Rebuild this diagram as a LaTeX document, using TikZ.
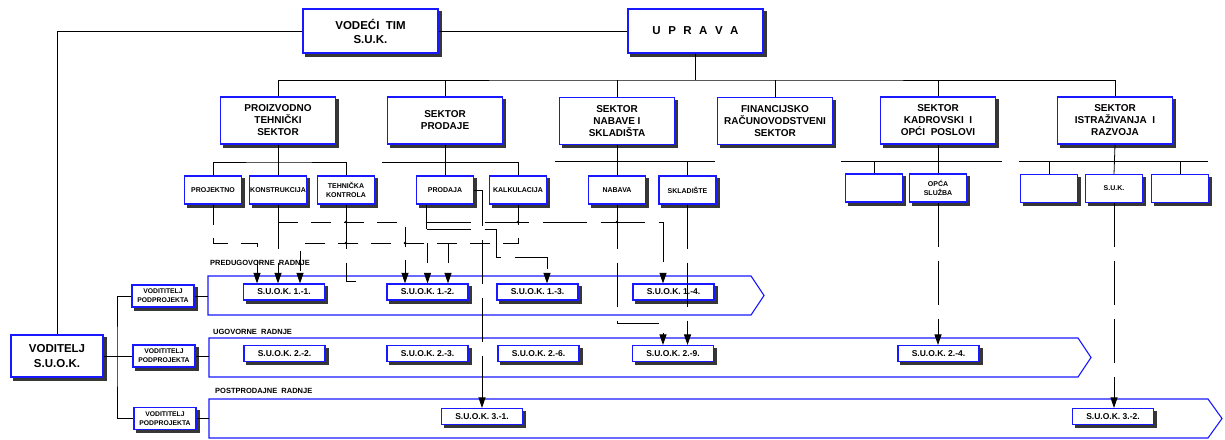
\documentclass[tikz,border=0pt]{standalone}
\usepackage{fontspec}
\setmainfont{Liberation Sans}
\usepackage{tikz}
\usetikzlibrary{arrows.meta}
\usetikzlibrary{calc}
\usetikzlibrary{backgrounds}
\usetikzlibrary{positioning}
\pgfdeclarelayer{pozadina}
\pgfdeclarelayer{sjene}
\pgfsetlayers{pozadina,sjene,main}
\definecolor{okvir}{RGB}{25,25,255}
\definecolor{sjena}{RGB}{55,55,55}
\tikzstyle{kutija}=[rectangle,draw=okvir,fill=white,line width=1.1pt,inner sep=1pt,align=center]
\tikzstyle{glavna}=[kutija,minimum width=135,minimum height=44,font=\fontsize{11.5}{14}\selectfont\bfseries]
\tikzstyle{voditelj}=[kutija,minimum width=92,minimum height=42,font=\fontsize{11.5}{15}\selectfont\bfseries]
\tikzstyle{sektor}=[kutija,minimum width=115,minimum height=47,font=\fontsize{10}{12}\selectfont\bfseries]
\tikzstyle{odjel}=[kutija,minimum width=57,minimum height=28,font=\fontsize{7}{9}\selectfont\bfseries]
\tikzstyle{suok}=[kutija,minimum width=81,minimum height=16,font=\fontsize{8.5}{10}\selectfont\bfseries]
\tikzstyle{podpr}=[kutija,minimum width=62,minimum height=22,font=\fontsize{6.8}{9}\selectfont\bfseries]
\tikzstyle{naslov}=[anchor=west,inner sep=0pt,font=\fontsize{7.5}{9}\selectfont\bfseries]
\tikzstyle{traka}=[draw=okvir,fill=white,line width=1.1pt]
\tikzstyle{veza}=[draw=black,line width=0.8pt]
\tikzstyle{crtkana}=[veza,dash pattern=on 44pt off 14pt]
\tikzstyle{crtkratka}=[veza,dash pattern=on 20pt off 13pt]
\tikzstyle{strelica}=[-{Triangle[width=7pt,length=10.5pt]}]

\begin{document}
\begin{tikzpicture}[x=1pt,y=-1pt]
        \useasboundingbox (0,0) rectangle (1225,439);
        % trake s radnjama
        \begin{pgfonlayer}{pozadina}
        \draw[traka] (208,276) -- (751,276) -- (764,295.5) -- (751,315) -- (208,315) -- cycle;
        \draw[traka] (209,338) -- (1078,338) -- (1091,357.5) -- (1078,377) -- (209,377) -- cycle;
        \draw[traka] (209,399) -- (1208,399) -- (1222,418.5) -- (1208,438) -- (209,438) -- cycle;
        \end{pgfonlayer}
        \coordinate (t1) at (208,296);
        \coordinate (t2) at (209,356);
        \coordinate (t3) at (209,418.5);
        \node[naslov] at (210,262.5) (n1) {PREDUGOVORNE\ \ RADNJE};
        \node[naslov] at (213,331.5) (n2) {UGOVORNE\ \ RADNJE};
        \node[naslov] at (215,391) (n3) {POSTPRODAJNE\ \ RADNJE};
        % vrh
        \node[glavna] at (370.5,31) (vod) {VODEĆI\ \ TIM\\S.U.K.};
        \node[glavna] at (695.5,31) (upr) {U\hspace{7.5pt}P\hspace{7.5pt}R\hspace{7.5pt}A\hspace{7.5pt}V\hspace{7.5pt}A};
        \node[voditelj] at (57,356) (vsk) {VODITELJ\\S.U.O.K.};
        % sektori
        \node[sektor] at (278,120.5) (pts) {PROIZVODNO\\TEHNIČKI\\SEKTOR};
        \node[sektor] at (445,120.5) (sps) {SEKTOR\\PRODAJE};
        \node[sektor] at (617,121) (sns) {SEKTOR\\NABAVE I\\SKLADIŠTA};
        \node[sektor] at (775,121) (frs) {FINANCIJSKO\\RAČUNOVODSTVENI\\SEKTOR};
        \node[sektor] at (938,120.5) (sks) {SEKTOR\\KADROVSKI\ \ I\\OPĆI\ \ POSLOVI};
        \node[sektor] at (1115,120.5) (sis) {SEKTOR\\ISTRAŽIVANJA\ \ I\\RAZVOJA};
        % odjeli
        \node[odjel] at (213,190) (proj) {PROJEKTNO};
        \node[odjel] at (278,190) (kon) {KONSTRUKCIJA};
        \node[odjel] at (346,190) (teh) {TEHNIČKA\\KONTROLA};
        \node[odjel] at (445,190) (prd) {PRODAJA};
        \node[odjel] at (518,190) (kal) {KALKULACIJA};
        \node[odjel] at (617,190) (nab) {NABAVA};
        \node[odjel] at (687.5,190) (skl) {SKLADIŠTE};
        \node[odjel] at (874,188) (kp1) {};
        \node[odjel] at (938,188) (opc) {OPĆA\\SLUŽBA};
        \node[odjel] at (1049,188.5) (ir1) {};
        \node[odjel] at (1114,188.5) (suk) {S.U.K.};
        \node[odjel] at (1180,188.5) (ir3) {};
        % voditelji podprojekata
        \node[podpr] at (163,296) (vp1) {VODITITELJ\\PODPROJEKTA};
        \node[podpr] at (164,356) (vp2) {VODITITELJ\\PODPROJEKTA};
        \node[podpr] at (165,418.5) (vp3) {VODITITELJ\\PODPROJEKTA};
        % S.U.O.K.
        \node[suok] at (284,292) (s11) {S.U.O.K. 1.-1.};
        \node[suok] at (427.5,292) (s12) {S.U.O.K. 1.-2.};
        \node[suok] at (537.5,292) (s13) {S.U.O.K. 1.-3.};
        \node[suok] at (673.5,292) (s14) {S.U.O.K. 1.-4.};
        \node[suok] at (284.5,353.5) (s22) {S.U.O.K. 2.-2.};
        \node[suok] at (427.5,353.5) (s23) {S.U.O.K. 2.-3.};
        \node[suok] at (538.5,353.5) (s26) {S.U.O.K. 2.-6.};
        \node[suok] at (673,353.5) (s29) {S.U.O.K. 2.-9.};
        \node[suok] at (938.5,353.5) (s24) {S.U.O.K. 2.-4.};
        \node[suok] at (482,416.5) (s31) {S.U.O.K. 3.-1.};
        \node[suok] at (1113,416.5) (s32) {S.U.O.K. 3.-2.};
        % sjene kutija
        \begin{pgfonlayer}{sjene}
        \foreach \n in {vod,upr,vsk,pts,sps,sns,frs,sks,sis,proj,kon,teh,prd,kal,nab,skl,kp1,opc,ir1,suk,ir3,vp1,vp2,vp3,s11,s12,s13,s14,s22,s23,s26,s29,s24,s31,s32}
          \fill[sjena] ($(\n.south west)+(3,3)$) rectangle ($(\n.north east)+(3,3)$);
        \end{pgfonlayer}
        % organizacijsko stablo
        \coordinate (sab) at (695.5,80);
        \draw[veza] (vod.east) -- (upr.west);
        \draw[veza] (vod.west) -| (vsk.north);
        \draw[veza] (upr.south) -- (sab);
        \draw[veza] (pts.north) |- (sab) -| (sis.north);
        \foreach \s in {sps,sns,frs,sks}
          \draw[veza] (\s.north) -- (\s.north |- sab);
        \coordinate (ptb) at (278,162);
        \coordinate (spb) at (382,162);
        \coordinate (snb) at (555,161.5);
        \coordinate (snk) at (715,161.5);
        \coordinate (skb) at (841,161);
        \coordinate (skk) at (1002,161);
        \coordinate (sib) at (1019,161);
        \coordinate (sik) at (1208,161);
        \draw[veza] (pts.south) -- (kon.north);
        \draw[veza] (proj.north) |- (ptb) -| (teh.north);
        \draw[veza] (sps.south) -- (prd.north);
        \draw[veza] (spb) -| (kal.north);
        \draw[veza] (sns.south) -- (nab.north);
        \draw[veza] (snb) -- (snk);
        \draw[veza] (skl.north) -- (skl.north |- snb);
        \draw[veza] (sks.south) -- (opc.north);
        \draw[veza] (skb) -- (skk);
        \draw[veza] (kp1.north) -- (kp1.north |- skb);
        \draw[veza] (sis.south) -- (suk.north);
        \draw[veza] (sib) -- (sik);
        \draw[veza] (ir1.north) -- (ir1.north |- sib);
        \draw[veza] (ir3.north) -- (ir3.north |- sib);
        % voditelji
        \coordinate (lk) at (117,356);
        \draw[veza] (vsk.east) -- (vp2.west);
        \draw[veza] (vp1.west) -| (lk) |- (vp3.west);
        \draw[veza] (vp1.east) -- (vp1.east -| t1);
        \draw[veza] (vp2.east) -- (vp2.east -| t2);
        \draw[veza] (vp3.east) -- (vp3.east -| t3);
        % veze odjela i S.U.O.K.
        \coordinate (hA) at (0,222);
        \coordinate (hB) at (0,229);
        \coordinate (hC) at (0,243);
        \coordinate (hD) at (0,257);
        \coordinate (hE) at (0,323);
        \coordinate (a11) at ([xshift=-27pt]s11.north);
        \coordinate (a11c) at ([xshift=16pt]s11.north);
        \coordinate (a12a) at ([xshift=-22.5pt]s12.north);
        \coordinate (a12c) at ([xshift=20.5pt]s12.north);
        \coordinate (a13) at ([xshift=9.5pt]s13.north);
        \coordinate (a14) at ([xshift=-10.5pt]s14.north);
        \coordinate (a29) at ([xshift=-10pt]s29.north);
        \coordinate (pk) at ([xshift=-18.5pt]prd.south);
        \draw[crtkratka,strelica] (proj.south) |- (a11 |- hC) -- (a11);
        \draw[crtkana,strelica] (kon.south) -- (kon.south |- s11.north);
        \draw[crtkratka,strelica] (kon.south |- hA) -| (a12a);
        \draw[crtkana] (teh.south) -- ++(0,77) -- ++(10,0);
        \draw[crtkratka,strelica] (kal.south) |- (a11c |- hC) -- (a11c);
        \draw[crtkratka,strelica] (s12.north |- hC) -- (s12.north);
        \draw[crtkratka,strelica] (a12c |- hC) -- (a12c);
        \draw[crtkana] (pk) -- (pk |- hB);
        \draw[crtkana,strelica] (pk |- hA) -| (a14);
        \draw[crtkana,strelica] (pk |- hB) -- ++(70,0) |- (a13 |- hD) -- (a13);
        \draw[crtkana,strelica] (prd.east) -| (s31.north);
        \draw[crtkana,strelica] (nab.south) |- (a29 |- hE) -- (a29);
        \draw[crtkana,strelica] (skl.south) -- (skl.south |- s29.north);
        \draw[crtkana,strelica] (opc.south) -- (opc.south |- s24.north);
        \draw[crtkana,strelica] (suk.south) -- (suk.south |- s32.north);
        \foreach \t in {teh.south |- hA,teh.south |- hC,a12a |- hC,kal.south |- hA,nab.south |- hA}
          \fill (\t) circle (1.3pt);
      \end{tikzpicture}
\end{document}
